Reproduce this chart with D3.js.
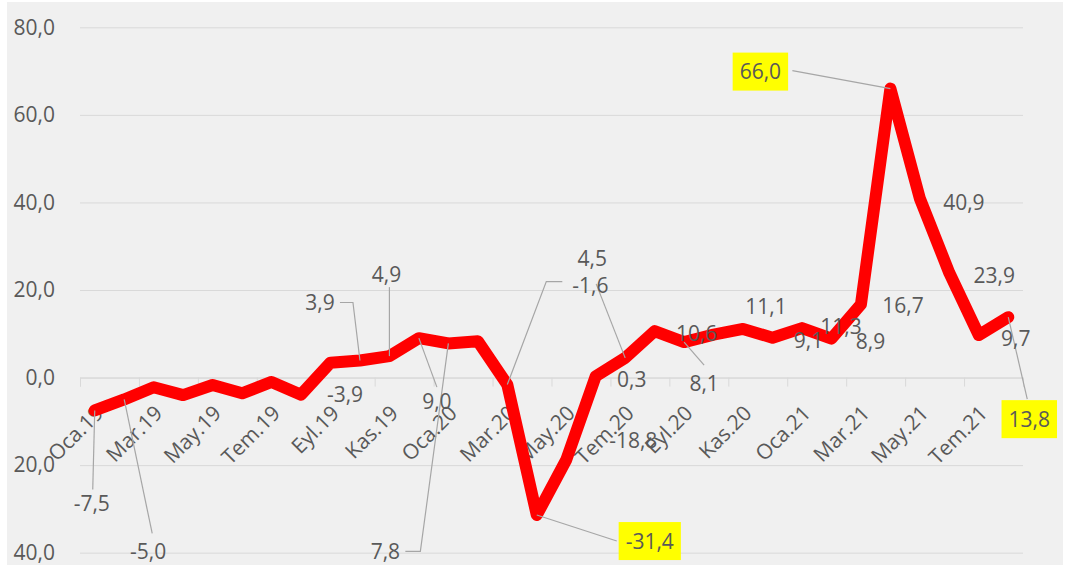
<!DOCTYPE html>
<html>
<head>
<meta charset="utf-8">
<script src="https://cdn.jsdelivr.net/npm/d3@7"></script>
<style>
  body { margin: 0; background: #fff; }
  svg text { font-family: "Open Sans", sans-serif; fill: #595959; }
</style>
</head>
<body>
<svg id="chart" width="1073" height="569"></svg>
<script>
// monthly categories, Oca.19 .. Ağu.21
const months = [
    "Oca.19", "Şub.19", "Mar.19", "Nis.19", "May.19", "Haz.19", "Tem.19", "Ağu.19",
    "Eyl.19", "Eki.19", "Kas.19", "Ara.19", "Oca.20", "Şub.20", "Mar.20", "Nis.20",
    "May.20", "Haz.20", "Tem.20", "Ağu.20", "Eyl.20", "Eki.20", "Kas.20", "Ara.20",
    "Oca.21", "Şub.21", "Mar.21", "Nis.21", "May.21", "Haz.21", "Tem.21", "Ağu.21"
];
const values = [
    -7.5, -5.0, -2.2, -4.0, -1.7, -3.6, -1.0, -3.9,
     3.4,  3.9,  4.9,  9.0,  7.8,  8.3, -1.6, -31.4,
   -18.8,  0.3,  4.5, 10.6,  8.1,  9.8, 11.1,  9.1,
    11.3,  8.9, 16.7, 66.0, 40.9, 23.9,  9.7, 13.8
];
const yTicks = [-40, -20, 0, 20, 40, 60, 80];
const highlighted = [15, 27, 31];

const margin = { left: 80, right: 50, top: 27.3, bottom: 16.3 };
const width  = 1073;
const height = 569;

// where each visible data label sits, relative to its point; leader = bend points
const labelLayout = {
    0:  { dx: -3,   dy: 93,  leader: [[-2, 79]] },
    1:  { dx: 24,   dy: 152, leader: [[28, 134]] },
    7:  { dx: 44,   dy: 0 },
    9:  { dx: -40,  dy: -58, leader: [[-20, -58], [-7, -58]] },
    10: { dx: -3,   dy: -82, leader: [[0, -69]] },
    11: { dx: 18,   dy: 63,  leader: [[18, 49]] },
    12: { dx: -63,  dy: 208, leader: [[-43, 208], [-28, 208]] },
    14: { dx: 83,   dy: -99, leader: [[55, -103], [39, -103]] },
    15: { dx: 113,  dy: 26,  leader: [[80, 26]] },
    16: { dx: 67,   dy: -19 },
    17: { dx: 36,   dy: 3 },
    18: { dx: -33,  dy: -99, leader: [[-29, -74]] },
    19: { dx: 42,   dy: 2 },
    20: { dx: 20,   dy: 41,  leader: [[20, 23]] },
    22: { dx: 23,   dy: -23 },
    23: { dx: 36,   dy: 3 },
    24: { dx: 39,   dy: -2 },
    25: { dx: 39,   dy: 3 },
    26: { dx: 42,   dy: 1 },
    27: { dx: -130, dy: -17, leader: [[-98, -18]] },
    28: { dx: 44,   dy: 4 },
    29: { dx: 45,   dy: 3 },
    30: { dx: 37,   dy: 3 },
    31: { dx: 21,   dy: 102, leader: [[19, 82]] }
};

const fmt = v => d3.format(".1f")(v).replace("−", "-").replace(".", ",");

const svg = d3.select("#chart");

svg.append("rect")
    .attr("x", 7).attr("y", 2)
    .attr("width", 1056).attr("height", 563)
    .attr("fill", "#f0f0f0");

const x = d3.scaleBand()
    .domain(months)
    .range([margin.left, width - margin.right]);

const y = d3.scaleLinear()
    .domain([-40, 80])
    .range([height - margin.bottom, margin.top]);

const cx = i => x(months[i]) + x.bandwidth() / 2;

// y axis + gridlines
const yAxis = svg.append("g")
    .attr("transform", `translate(${margin.left},0)`)
    .call(d3.axisLeft(y)
        .tickValues(yTicks)
        .tickSize(-(width - margin.left - margin.right))
        .tickPadding(25)
        .tickFormat(d => fmt(Math.abs(d))));

yAxis.select(".domain").remove();
yAxis.selectAll("line").attr("stroke", "#d9d9d9");
yAxis.selectAll("text").style("font-size", "21px").attr("fill", "#595959");

// x axis: boundary tick marks every two months
const xi = d3.scaleLinear().domain([0, months.length]).range(x.range());

const xTicks = svg.append("g")
    .attr("transform", `translate(0,${y(0)})`)
    .call(d3.axisBottom(xi)
        .tickValues(d3.range(0, months.length + 1, 2))
        .tickSize(9)
        .tickFormat(""));
xTicks.selectAll("line, path").attr("stroke", "#d9d9d9");

const xAxis = svg.append("g")
    .attr("transform", `translate(0,${y(0)})`)
    .call(d3.axisBottom(x)
        .tickValues(months.filter((d, i) => i % 2 === 0))
        .tickSize(0));

xAxis.select(".domain").remove();
xAxis.selectAll("text")
    .attr("y", 0).attr("dy", 0)
    .attr("text-anchor", "end")
    .attr("transform", "translate(10,37) rotate(-45)")
    .style("font-size", "21px")
    .attr("fill", "#595959");

// the series
const line = d3.line()
    .x((d, i) => cx(i))
    .y(d => y(d));

svg.append("path")
    .datum(values)
    .attr("fill", "none")
    .attr("stroke", "#ff0000")
    .attr("stroke-width", 12)
    .attr("stroke-linejoin", "round")
    .attr("stroke-linecap", "round")
    .attr("d", line);

// data labels
const labelled = Object.keys(labelLayout).map(Number);

svg.append("g").attr("class", "leaders")
    .selectAll("polyline")
    .data(labelled.filter(i => labelLayout[i].leader))
    .enter()
    .append("polyline")
    .attr("fill", "none")
    .attr("stroke", "#a6a6a6")
    .attr("stroke-width", 1.2)
    .attr("points", i => {
        const px = cx(i), py = y(values[i]);
        return labelLayout[i].leader
            .map(([dx, dy]) => [px + dx, py + dy])
            .concat([[px, py]])
            .join(" ");
    });

const labels = svg.append("g").attr("class", "labels")
    .selectAll("g")
    .data(labelled)
    .enter()
    .append("g")
    .attr("transform", i =>
        `translate(${cx(i) + labelLayout[i].dx},${y(values[i]) + labelLayout[i].dy})`);

labels.filter(i => highlighted.includes(i))
    .append("rect")
    .attr("fill", "#ffff00");

labels.append("text")
    .attr("text-anchor", "middle")
    .attr("dy", "0.36em")
    .style("font-size", "21px")
    .attr("fill", i => highlighted.includes(i) ? "#404040" : "#595959")
    .text(i => fmt(values[i]));

labels.select("rect").each(function () {
    const t = d3.select(this.parentNode).select("text").node().getBBox();
    d3.select(this)
        .attr("x", t.x - 7).attr("y", -19)
        .attr("width", t.width + 14).attr("height", 38);
});
</script>
</body>
</html>
